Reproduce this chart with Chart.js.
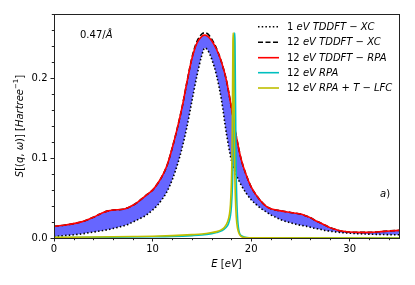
<!DOCTYPE html>
<html><head><meta charset="utf-8">
<script src="https://cdn.jsdelivr.net/npm/chart.js@4.4.1/dist/chart.umd.min.js"></script>
<style>html,body{margin:0;padding:0;background:#fff;}canvas{display:block;}</style>
</head><body>
<canvas id="c" width="415" height="285"></canvas>
<script>
// ---- data ----
const energy = [0,1,2,3,4,4.5,5,5.5,6,7,7.5,8,8.5,9,9.5,10,10.5,11,11.5,12,12.5,13,13.5,14,14.5,15,15.3,15.6,16,16.5,17,17.5,18,18.5,19,19.5,20,20.5,21,21.5,22,23,24,25,25.5,26,26.5,27,27.5,28,28.5,29,30,31,32,33,34,35];
const tddftXC1 = [0.0017,0.003,0.004,0.0055,0.0075,0.0085,0.0095,0.0105,0.012,0.015,0.017,0.020,0.023,0.026,0.030,0.035,0.041,0.049,0.059,0.073,0.091,0.113,0.140,0.172,0.203,0.229,0.238,0.235,0.224,0.203,0.172,0.130,0.097,0.079,0.066,0.056,0.048,0.042,0.037,0.033,0.029,0.023,0.019,0.016,0.015,0.0135,0.012,0.011,0.0095,0.0085,0.0077,0.007,0.006,0.0053,0.0048,0.0045,0.0042,0.004];
const tddftXC12 = [0.0146,0.016,0.018,0.021,0.026,0.029,0.032,0.034,0.035,0.036,0.038,0.041,0.045,0.050,0.055,0.060,0.068,0.078,0.092,0.113,0.137,0.164,0.196,0.226,0.246,0.2555,0.257,0.2555,0.249,0.237,0.220,0.197,0.163,0.127,0.098,0.079,0.064,0.054,0.046,0.040,0.0365,0.034,0.032,0.030,0.028,0.0255,0.022,0.019,0.016,0.013,0.011,0.009,0.0075,0.007,0.007,0.0078,0.0088,0.0095];
const tddftRPA12 = [0.0146,0.016,0.018,0.021,0.026,0.029,0.032,0.034,0.035,0.036,0.038,0.041,0.045,0.050,0.055,0.060,0.068,0.078,0.092,0.113,0.137,0.164,0.196,0.225,0.244,0.2525,0.254,0.2525,0.247,0.236,0.220,0.197,0.163,0.127,0.098,0.079,0.064,0.054,0.046,0.040,0.0365,0.034,0.032,0.030,0.028,0.0255,0.022,0.019,0.016,0.013,0.011,0.009,0.0075,0.007,0.007,0.0078,0.0088,0.0095];
const rpaE = [0,4,8,10,12,14,15,16,16.5,17,17.4,17.7,17.9,18.0,18.1,18.15,18.2,18.25,18.3,18.33,18.36,18.4,18.45,18.5,18.6,18.7,18.8,19.0,19.3,19.6,20,25,35];
const rpa12 = [0.0005,0.0008,0.0012,0.0015,0.002,0.003,0.0038,0.0055,0.0068,0.009,0.0125,0.018,0.028,0.040,0.065,0.09,0.135,0.2,0.245,0.257,0.245,0.19,0.12,0.07,0.03,0.014,0.007,0.003,0.0012,0.0006,0.0003,0.0001,0];
const lfcE = [0,4,8,10,12,14,15,16,16.5,17,17.3,17.6,17.8,17.9,18.0,18.05,18.1,18.15,18.18,18.21,18.26,18.3,18.35,18.45,18.55,18.7,18.9,19.1,19.4,20,35];
const rpaLFC12 = [0.0008,0.0012,0.0018,0.0022,0.003,0.0042,0.005,0.0068,0.008,0.0105,0.0135,0.02,0.03,0.042,0.07,0.1,0.16,0.245,0.257,0.245,0.17,0.12,0.075,0.035,0.018,0.008,0.003,0.0012,0.0005,0.0002,0];
const xTicks = [0,10,20,30];
const yTicks = [0,0.1,0.2];
const labels = ['1 eV TDDFT \u2212 XC','12 eV TDDFT \u2212 XC','12 eV TDDFT \u2212 RPA','12 eV RPA','12 eV RPA + T \u2212 LFC'];

const pts = (xs, ys) => xs.map((x, i) => ({x: x, y: ys[i]}));

const FONT = '"DejaVu Sans", sans-serif';
const FS = 10;

function drawSegs(ctx, segs, x, y, align) {
  // segs: [text, italic, size, dy]
  let total = 0;
  const widths = segs.map(s => {
    ctx.font = (s[1] ? 'italic ' : '') + (s[2] || FS) + 'px ' + FONT;
    const w = ctx.measureText(s[0]).width; total += w; return w;
  });
  let cx = align === 'center' ? x - total / 2 : x;
  segs.forEach((s, i) => {
    ctx.font = (s[1] ? 'italic ' : '') + (s[2] || FS) + 'px ' + FONT;
    ctx.fillText(s[0], cx, y + (s[3] || 0));
    cx += widths[i];
  });
}

const decor = {
  id: 'decor',
  afterDraw(chart) {
    const ctx = chart.ctx, a = chart.chartArea;
    const xs = chart.scales.x, ys = chart.scales.y;
    ctx.save();
    // frame
    ctx.strokeStyle = '#222'; ctx.lineWidth = 1;
    ctx.strokeRect(Math.round(a.left) + 0.5, Math.round(a.top) + 0.5, Math.round(a.right - a.left), Math.round(a.bottom - a.top));
    // minor ticks
    ctx.beginPath();
    for (let v = 0.02; v < 0.28; v += 0.02) {
      if (Math.abs(v * 10 - Math.round(v * 10)) < 1e-6) continue;
      const p = Math.round(ys.getPixelForValue(v)) + 0.5;
      ctx.moveTo(a.left, p); ctx.lineTo(a.left - 2.2, p);
    }
    for (let v = 2; v < 35; v += 2) {
      if (v % 10 === 0) continue;
      const p = Math.round(xs.getPixelForValue(v)) + 0.5;
      ctx.moveTo(p, a.bottom); ctx.lineTo(p, a.bottom + 2.2);
    }
    ctx.stroke();
    ctx.fillStyle = '#000';
    ctx.textBaseline = 'middle';
    // x title
    drawSegs(ctx, [['E',true],[' [',false],['eV',true],[']',false]], (a.left + a.right) / 2, 264, 'center');
    // y title
    ctx.save();
    ctx.translate(20, (a.top + a.bottom) / 2);
    ctx.rotate(-Math.PI / 2);
    drawSegs(ctx, [['S',true],['[(',false],['q',true],[', ',false],['\u03c9',true],[')] [',false],['Hartree',true],['\u22121',false,7,-3.5],[']',false]], 0, 0, 'center');
    ctx.restore();
    // annotations
    drawSegs(ctx, [['0.47/',false],['\u00c5',true]], 80, 35, 'left');
    drawSegs(ctx, [['a',true],[')',false]], 380, 194.5, 'left');
    // legend
    const rows = [26.7, 42.3, 57.7, 72.7, 88];
    const styles = [
      {c:'#000', d:[1.5,2.2], w:1.6},
      {c:'#000', d:[5,2.5], w:1.6},
      {c:'#ff0000', d:[], w:1.6},
      {c:'#00bfbf', d:[], w:1.6},
      {c:'#bfbf00', d:[], w:1.6}
    ];
    const segsList = [
      [['1',false],[' eV TDDFT',true],[' \u2212 ',false],['XC',true]],
      [['12',false],[' eV TDDFT',true],[' \u2212 ',false],['XC',true]],
      [['12',false],[' eV TDDFT',true],[' \u2212 ',false],['RPA',true]],
      [['12',false],[' eV RPA',true]],
      [['12',false],[' eV RPA',true],[' + ',false],['T',true],[' \u2212 ',false],['LFC',true]]
    ];
    rows.forEach((ry, i) => {
      const s = styles[i];
      ctx.beginPath(); ctx.strokeStyle = s.c; ctx.lineWidth = s.w; ctx.setLineDash(s.d);
      ctx.moveTo(258, ry); ctx.lineTo(279, ry); ctx.stroke();
      ctx.setLineDash([]);
      drawSegs(ctx, segsList[i], 287, ry + 0.5, 'left');
    });
    ctx.restore();
  }
};

const common = {pointRadius: 0, cubicInterpolationMode: 'monotone', borderWidth: 1.6, fill: false};

new Chart(document.getElementById('c'), {
  type: 'line',
  data: {
    datasets: [
      Object.assign({}, common, {label: labels[4], data: pts(lfcE, rpaLFC12), borderColor: '#bfbf00', order: 0}),
      Object.assign({}, common, {label: labels[3], data: pts(rpaE, rpa12), borderColor: '#00bfbf', order: 1}),
      Object.assign({}, common, {label: labels[2], data: pts(energy, tddftRPA12), borderColor: '#ff0000', order: 2,
        fill: {target: 4}, backgroundColor: 'rgba(0,0,255,0.6)'}),
      Object.assign({}, common, {label: labels[1], data: pts(energy, tddftXC12), borderColor: '#000', borderDash: [5, 2.5], order: 3}),
      Object.assign({}, common, {label: labels[0], data: pts(energy, tddftXC1), borderColor: '#000', borderDash: [1.5, 2.2], order: 4})
    ]
  },
  options: {
    responsive: false,
    animation: false,
    devicePixelRatio: 1,
    layout: {padding: {left: 0, right: 16, top: 14, bottom: 0}},
    plugins: {legend: {display: false}, tooltip: {enabled: false}, filler: {drawTime: 'beforeDatasetsDraw'}},
    scales: {
      x: {
        type: 'linear', min: 0, max: 35,
        afterFit(s) { s.height = 47; },
        afterBuildTicks(s) { s.ticks = xTicks.map(v => ({value: v})); },
        ticks: {color: '#000', font: {family: FONT, size: FS}, padding: 2, maxRotation: 0, callback: v => String(v)},
        grid: {drawOnChartArea: false, drawTicks: true, tickLength: 3.5, tickColor: '#222', tickWidth: 1},
        border: {display: true, color: '#222', width: 1}
      },
      y: {
        type: 'linear', min: 0, max: 0.2805,
        afterFit(s) { s.width = 54; },
        afterBuildTicks(s) { s.ticks = yTicks.map(v => ({value: v})); },
        ticks: {color: '#000', font: {family: FONT, size: FS}, padding: 3, callback: v => v.toFixed(1)},
        grid: {drawOnChartArea: false, drawTicks: true, tickLength: 3.5, tickColor: '#222', tickWidth: 1},
        border: {display: true, color: '#222', width: 1}
      }
    }
  },
  plugins: [decor]
});
</script>
</body></html>
